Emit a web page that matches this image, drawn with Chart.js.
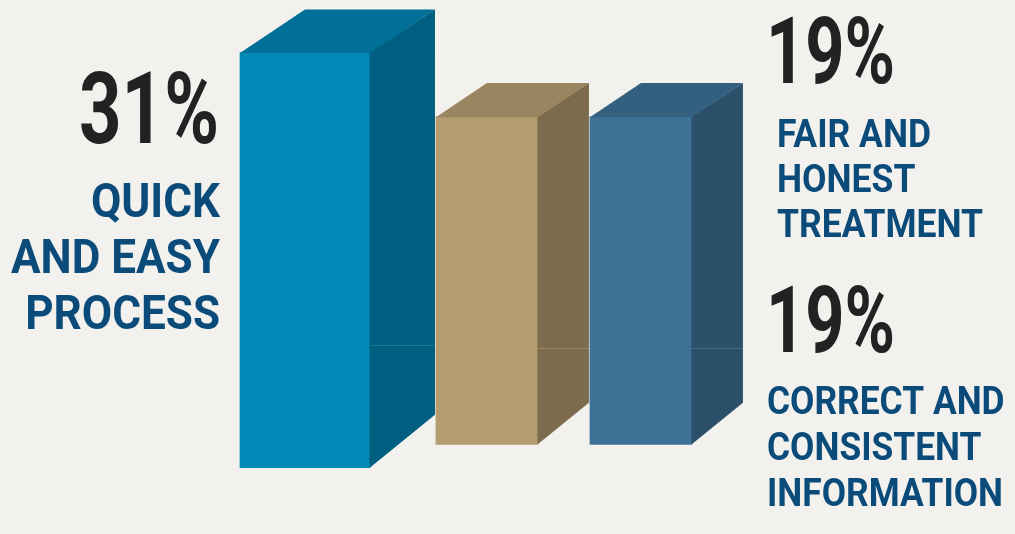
<!DOCTYPE html>
<html>
<head>
<meta charset="utf-8">
<script src="https://cdn.jsdelivr.net/npm/chart.js@4.4.1/dist/chart.umd.min.js"></script>
<style>
  html, body { margin: 0; padding: 0; background: #f2f1ee; }
  #wrap { width: 1015px; height: 534px; }
</style>
</head>
<body>
<div id="wrap"><canvas id="chart" width="1015" height="534"></canvas></div>
<script>
// Data
const categories = ['Quick and easy process', 'Fair and honest treatment', 'Correct and consistent information'];
const values = [31, 19, 19];
const valueLabels = ['31%', '19%', '19%'];
const labelLines = [
    ['QUICK', 'AND EASY', 'PROCESS'],
    ['FAIR AND', 'HONEST', 'TREATMENT'],
    ['CORRECT AND', 'CONSISTENT', 'INFORMATION']
];

// Colours per bar: front, side, top, seam line
const frontColors = ['#0088b7', '#b39c6f', '#3e7196'];
const sideColors = ['#005f80', '#7c6b4c', '#2c5069'];
const topColors = ['#007099', '#9a8561', '#346080'];
const seamColors = ['#1c7797', '#9a8763', '#406a88'];

// the big bar stands in front, the other two sit behind it
const leadIdx = [0];
const restIdx = [1, 2];
const points = idx => idx.map(i => ({ x: i, y: values[i] }));

// text placement (annotation layout)
const textLayout = [
    { numX: 219, numY: 142.5, numSize: 101, numW: 140, align: 'right', x: 220, y: 216.5, gap: 56, size: 48, fitLine: 1, fitW: 209 },
    { numX: 766, numY: 82.5, numSize: 93, numW: 129, align: 'left', x: 777, y: 146.7, gap: 45.3, size: 38, fitLine: 2, fitW: 206 },
    { numX: 766, numY: 351.5, numSize: 93, numW: 129, align: 'left', x: 767, y: 414, gap: 46, size: 39, fitLine: 2, fitW: 236 }
];

// draws top and side faces so the bars look like blocks
const bar3d = {
    id: 'bar3d',
    afterDatasetsDraw(chart) {
        const ctx = chart.ctx;
        chart.data.datasets.forEach((ds, di) => {
            chart.getDatasetMeta(di).data.forEach((bar, j) => {
                const i = ds.data[j].x;
                const p = bar.getProps(['x', 'y', 'base', 'width'], true);
                const L = p.x - p.width / 2, R = p.x + p.width / 2;
                const dx = p.width * 0.5, dyT = p.width * 0.33, dyB = p.width * 0.41;
                const top = p.y, bot = p.base;

                ctx.save();
                ctx.fillStyle = sideColors[i];
                ctx.beginPath();
                ctx.moveTo(R - 0.5, top);
                ctx.lineTo(R + dx, top - dyT);
                ctx.lineTo(R + dx, bot - dyB);
                ctx.lineTo(R - 0.5, bot);
                ctx.closePath();
                ctx.fill();

                ctx.fillStyle = topColors[i];
                ctx.beginPath();
                ctx.moveTo(L, top + 0.5);
                ctx.lineTo(L + dx, top - dyT);
                ctx.lineTo(R + dx, top - dyT);
                ctx.lineTo(R, top + 0.5);
                ctx.closePath();
                ctx.fill();

                const sy = Math.round(top + (bot - top) * 0.705) + 0.5;
                ctx.strokeStyle = seamColors[i];
                ctx.lineWidth = 1;
                ctx.beginPath();
                ctx.moveTo(R, sy);
                ctx.lineTo(R + dx, sy);
                ctx.stroke();
                ctx.restore();
            });
        });
    }
};

function drawGroup(ctx, lines, x, y, gap, font, align, sx, color) {
    ctx.save();
    ctx.font = font;
    ctx.fillStyle = color;
    ctx.textAlign = align;
    ctx.textBaseline = 'alphabetic';
    lines.forEach((line, k) => {
        ctx.save();
        ctx.translate(x, y + k * gap);
        ctx.scale(sx, 1);
        ctx.fillText(line, 0, 0);
        ctx.restore();
    });
    ctx.restore();
}

const labelsPlugin = {
    id: 'labelsPlugin',
    afterDraw(chart) {
        const ctx = chart.ctx;
        textLayout.forEach((t, i) => {
            // percentage
            const numFont = `bold ${t.numSize}px Roboto`;
            ctx.font = numFont;
            const nsx = t.numW / ctx.measureText(valueLabels[i]).width;
            drawGroup(ctx, [valueLabels[i]], t.numX, t.numY, 0, numFont, t.align, nsx, '#222222');

            // category lines
            const font = `bold ${t.size}px Roboto`;
            ctx.font = font;
            const sx = t.fitW / ctx.measureText(labelLines[i][t.fitLine]).width;
            drawGroup(ctx, labelLines[i], t.x, t.y, t.gap, font, t.align, sx, '#0b4b7a');
        });
    }
};

new Chart(document.getElementById('chart'), {
    type: 'bar',
    data: {
        labels: categories,
        datasets: [{
            label: categories[0],
            data: points(leadIdx),
            xAxisID: 'xLead',
            yAxisID: 'yLead',
            backgroundColor: leadIdx.map(i => frontColors[i]),
            borderWidth: 0,
            grouped: false,
            barThickness: 130
        }, {
            label: 'Other reasons',
            data: points(restIdx),
            xAxisID: 'xRest',
            yAxisID: 'yRest',
            backgroundColor: restIdx.map(i => frontColors[i]),
            borderWidth: 0,
            grouped: false,
            barThickness: 102
        }]
    },
    options: {
        responsive: false,
        animation: false,
        layout: { padding: { top: 10, bottom: 66, left: 0, right: 0 } },
        plugins: {
            legend: { display: false },
            tooltip: { enabled: false }
        },
        scales: {
            xLead: { axis: 'x', type: 'linear', display: false, offset: false, min: -1, max: 2.328 },
            xRest: { axis: 'x', type: 'linear', display: false, offset: false, min: -2.162, max: 4.429 },
            yLead: { axis: 'y', type: 'linear', display: false, min: 0, max: 34.17 },
            yRest: { axis: 'y', type: 'linear', display: false, min: -1.362, max: 25.185 }
        }
    },
    plugins: [bar3d, labelsPlugin]
});
</script>
</body>
</html>
